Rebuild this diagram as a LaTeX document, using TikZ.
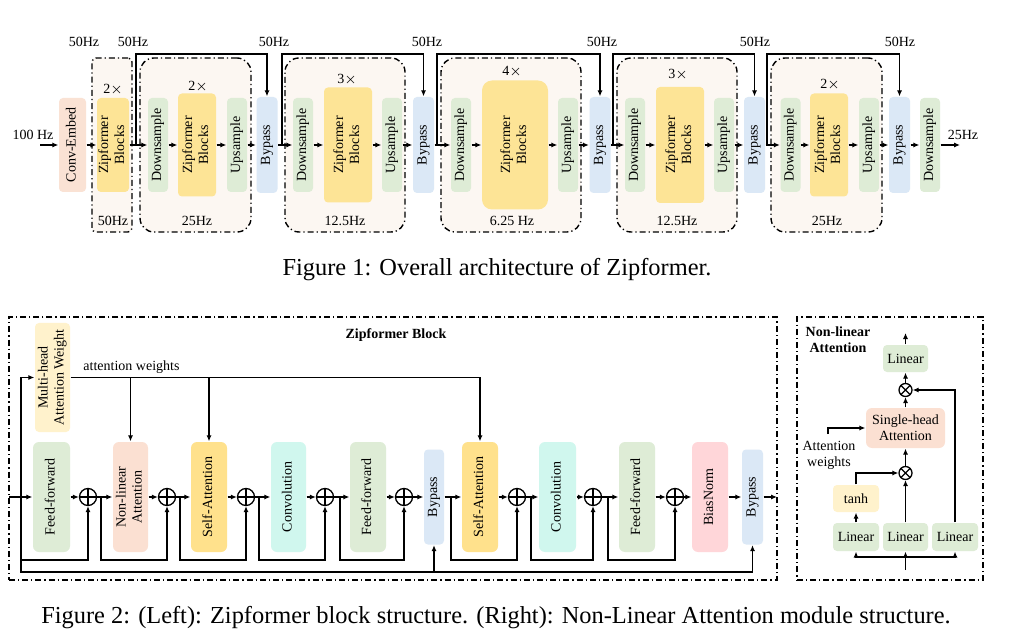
\documentclass[tikz,border=0pt]{standalone}
\usepackage{fontspec}
\setmainfont{Liberation Serif}
\usetikzlibrary{arrows.meta, positioning}
\definecolor{embcol}{RGB}{250,226,212}
\definecolor{zipcol}{RGB}{253,228,150}
\definecolor{greencol}{RGB}{222,236,214}
\definecolor{bypasscol}{RGB}{219,232,246}
\definecolor{stagecol}{RGB}{252,247,242}
\definecolor{mhawcol}{RGB}{255,242,204}
\definecolor{nlacol}{RGB}{251,224,210}
\definecolor{sacol}{RGB}{255,225,140}
\definecolor{convcol}{RGB}{208,247,238}
\definecolor{biascol}{RGB}{255,214,217}
\newcommand{\vlab}[1]{\rotatebox{90}{\begin{tabular}{@{}c@{}}#1\end{tabular}}}
\tikzset{
    lab/.style={font=\fontsize{7}{8}\selectfont, inner sep=0pt},
    mod/.style 2 args={lab, rounded corners=2pt, minimum width=#1, minimum height=#2, align=center},
    stageline/.style={dash pattern=on 3pt off 1.5pt on 0.6pt off 1.5pt, line width=0.7pt},
    arr/.style={-{Latex[length=3pt,width=2.6pt]}},
    plusnode/.style={circle, draw, line width=0.65pt, minimum size=8.5pt, inner sep=0pt,
        path picture={\draw[line width=0.65pt] (path picture bounding box.north) -- (path picture bounding box.south)
            (path picture bounding box.west) -- (path picture bounding box.east);}},
    timesnode/.style={circle, draw, line width=0.65pt, minimum size=6.5pt, inner sep=0pt,
        path picture={\draw[line width=0.65pt] ([shift={(45:3.3pt)}]path picture bounding box.center) -- ([shift={(225:3.3pt)}]path picture bounding box.center)
            ([shift={(135:3.3pt)}]path picture bounding box.center) -- ([shift={(315:3.3pt)}]path picture bounding box.center);}},
    captext/.style={font=\fontsize{12.2}{14}\selectfont, inner sep=0pt}
}
\begin{document}
\begin{tikzpicture}[x=0.5pt, y=-0.5pt, line width=0.65pt]
    \fill[white] (0,0) rectangle (1021,641);
    \useasboundingbox (0,0) rectangle (1021,641);

    % Figure 1: stages
    \node[stageline, draw, fill=stagecol, rounded corners=2pt, minimum width=20pt, minimum height=87pt] (st1) at (112,145) {};
    \node[stageline, draw, fill=stagecol, rounded corners=7pt, minimum width=55.5pt, minimum height=87pt] (st2) at (195.5,145) {};
    \node[stageline, draw, fill=stagecol, rounded corners=7pt, minimum width=60pt, minimum height=87pt] (st3) at (345,145) {};
    \node[stageline, draw, fill=stagecol, rounded corners=7pt, minimum width=70pt, minimum height=87pt] (st4) at (511,145) {};
    \node[stageline, draw, fill=stagecol, rounded corners=7pt, minimum width=60pt, minimum height=87pt] (st5) at (677,145) {};
    \node[stageline, draw, fill=stagecol, rounded corners=7pt, minimum width=55.5pt, minimum height=87pt] (st6) at (826.5,145) {};

    % Figure 1: blocks
    \node[mod={13.5pt}{47pt}, fill=embcol] (embed) at (72.5,145) {\vlab{Conv-Embed}};
    \node[mod={15pt}{47pt}, fill=zipcol] (zip1) at (113,145) {\vlab{Zipformer\\Blocks}};
    \node[mod={10pt}{47pt}, fill=greencol] (down2) at (158,145) {\vlab{Downsample}};
    \node[mod={19pt}{51.5pt}, fill=zipcol] (zip2) at (197,145) {\vlab{Zipformer\\Blocks}};
    \node[mod={10pt}{47pt}, fill=greencol] (up2) at (237,145) {\vlab{Upsample}};
    \node[mod={10.5pt}{48pt}, fill=bypasscol] (bypass1) at (267,145) {\vlab{Bypass}};
    \node[mod={10pt}{47pt}, fill=greencol] (down3) at (303,145) {\vlab{Downsample}};
    \node[mod={24pt}{57.5pt}, fill=zipcol] (zip3) at (348,145) {\vlab{Zipformer\\Blocks}};
    \node[mod={10pt}{47pt}, fill=greencol] (up3) at (392,145) {\vlab{Upsample}};
    \node[mod={10.5pt}{48pt}, fill=bypasscol] (bypass2) at (423.5,145) {\vlab{Bypass}};
    \node[mod={10pt}{47pt}, fill=greencol] (down4) at (461,145) {\vlab{Downsample}};
    \node[mod={33pt}{64.5pt}, fill=zipcol, rounded corners=5pt] (zip4) at (515,145) {\vlab{Zipformer\\Blocks}};
    \node[mod={10pt}{47pt}, fill=greencol] (up4) at (568,145) {\vlab{Upsample}};
    \node[mod={10.5pt}{48pt}, fill=bypasscol] (bypass3) at (600,145) {\vlab{Bypass}};
    \node[mod={10pt}{47pt}, fill=greencol] (down5) at (635,145) {\vlab{Downsample}};
    \node[mod={24pt}{58pt}, fill=zipcol] (zip5) at (680,145) {\vlab{Zipformer\\Blocks}};
    \node[mod={10pt}{47pt}, fill=greencol] (up5) at (724,145) {\vlab{Upsample}};
    \node[mod={10.5pt}{48pt}, fill=bypasscol] (bypass4) at (754.5,145) {\vlab{Bypass}};
    \node[mod={10pt}{47pt}, fill=greencol] (down6) at (790.5,145) {\vlab{Downsample}};
    \node[mod={19pt}{51.5pt}, fill=zipcol] (zip6) at (829,145) {\vlab{Zipformer\\Blocks}};
    \node[mod={10pt}{47pt}, fill=greencol] (up6) at (869,145) {\vlab{Upsample}};
    \node[mod={10.5pt}{48pt}, fill=bypasscol] (bypass5) at (899.5,145) {\vlab{Bypass}};
    \node[mod={10pt}{47pt}, fill=greencol] (down7) at (930,145) {\vlab{Downsample}};

    % Figure 1: labels
    \node[lab] (hzin) at (33,135) {100 Hz};
    \node[lab] (hzout) at (963,135) {25Hz};
    \node[lab] (rep1) at (113,90) {2$\times$};
    \node[lab] (rep2) at (198,87) {2$\times$};
    \node[lab] (rep3) at (347,80) {3$\times$};
    \node[lab] (rep4) at (512,72) {4$\times$};
    \node[lab] (rep5) at (678,75) {3$\times$};
    \node[lab] (rep6) at (830,85) {2$\times$};
    \node[lab] (rate1) at (113,221) {50Hz};
    \node[lab] (rate2) at (197,221) {25Hz};
    \node[lab] (rate3) at (345,221) {12.5Hz};
    \node[lab] (rate4) at (512,221) {6.25 Hz};
    \node[lab] (rate5) at (677,221) {12.5Hz};
    \node[lab] (rate6) at (827,221) {25Hz};
    \node[lab] (top0) at (84,42) {50Hz};
    \node[lab] (top1) at (133,42) {50Hz};
    \node[lab] (top2) at (274,42) {50Hz};
    \node[lab] (top3) at (427,42) {50Hz};
    \node[lab] (top4) at (602,42) {50Hz};
    \node[lab] (top5) at (755,42) {50Hz};
    \node[lab] (top6) at (900,42) {50Hz};

    % Figure 1: main path
    \coordinate (in1) at (40,145);
    \coordinate (out1) at (960,145);
    \foreach \a/\b in {in1/embed, embed/zip1, zip1/down2, down2/zip2, zip2/up2, up2/bypass1,
        bypass1/down3, down3/zip3, zip3/up3, up3/bypass2, bypass2/down4, down4/zip4, zip4/up4,
        up4/bypass3, bypass3/down5, down5/zip5, zip5/up5, up5/bypass4, bypass4/down6,
        down6/zip6, zip6/up6, up6/bypass5, bypass5/down7, down7/out1}
        \draw[arr] (\a) -- (\b);

    % Figure 1: skip connections
    \coordinate (sk1) at (136,145);
    \coordinate (sk2) at (282,145);
    \coordinate (sk3) at (437,145);
    \coordinate (sk4) at (613,145);
    \coordinate (sk5) at (767,145);
    \foreach \s/\b in {sk1/bypass1, sk2/bypass2, sk3/bypass3, sk4/bypass4, sk5/bypass5}
        \draw[arr] (\s) -- ++(0,-91) -| (\b.north);

    \node[captext] (cap1) at (497,270) {Figure 1: Overall architecture of Zipformer.};

    % Figure 2: frames
    \node[stageline, draw, minimum width=384pt, minimum height=131.5pt] (zblock) at (393,448.5) {};
    \node[stageline, draw, minimum width=93pt, minimum height=131.5pt] (nlblock) at (890,448.5) {};
    \node[lab, font=\fontsize{7}{8}\selectfont\bfseries] (zbtitle) at (396,335) {Zipformer Block};
    \node[lab, font=\fontsize{7}{8}\selectfont\bfseries, align=center] (nltitle) at (838,340) {Non-linear\\Attention};

    % Figure 2: Zipformer block
    \node[mod={17.5pt}{54.5pt}, fill=mhawcol] (mhaw) at (52.5,377.5) {\vlab{Multi-head\\Attention Weight}};
    \node[mod={18.5pt}{55pt}, fill=greencol, rounded corners=3pt] (ff1) at (51.5,497) {\vlab{Feed-forward}};
    \node[mod={17.5pt}{55pt}, fill=nlacol, rounded corners=3pt] (nla) at (130.5,497) {\vlab{Non-linear\\Attention}};
    \node[mod={18pt}{55pt}, fill=sacol, rounded corners=3pt] (sa1) at (209,497) {\vlab{Self-Attention}};
    \node[mod={17.5pt}{55pt}, fill=convcol, rounded corners=3pt] (cv1) at (288.5,497) {\vlab{Convolution}};
    \node[mod={18pt}{55pt}, fill=greencol, rounded corners=3pt] (ff2) at (368,497) {\vlab{Feed-forward}};
    \node[mod={10pt}{47.5pt}, fill=bypasscol] (bp1) at (434,497) {\vlab{Bypass}};
    \node[mod={18pt}{55pt}, fill=sacol, rounded corners=3pt] (sa2) at (480,497) {\vlab{Self-Attention}};
    \node[mod={18.5pt}{55pt}, fill=convcol, rounded corners=3pt] (cv2) at (557.5,497) {\vlab{Convolution}};
    \node[mod={18pt}{55pt}, fill=greencol, rounded corners=3pt] (ff3) at (637,497) {\vlab{Feed-forward}};
    \node[mod={18pt}{55pt}, fill=biascol, rounded corners=3pt] (bn) at (710,497) {\vlab{BiasNorm}};
    \node[mod={10.5pt}{47.5pt}, fill=bypasscol] (bp2) at (752.5,497) {\vlab{Bypass}};
    \node[plusnode] (p1) at (88,497) {};
    \node[plusnode] (p2) at (167,497) {};
    \node[plusnode] (p3) at (246,497) {};
    \node[plusnode] (p4) at (325,497) {};
    \node[plusnode] (p5) at (404,497) {};
    \node[plusnode] (p6) at (517,497) {};
    \node[plusnode] (p7) at (593,497) {};
    \node[plusnode] (p8) at (675,497) {};

    % main path
    \coordinate (in2) at (9,497);
    \coordinate (out2) at (777,497);
    \foreach \a/\b in {in2/ff1, ff1/p1, p1/nla, nla/p2, p2/sa1, sa1/p3, p3/cv1, cv1/p4, p4/ff2,
        ff2/p5, p5/bp1, bp1/sa2, sa2/p6, p6/cv2, cv2/p7, p7/ff3, ff3/p8, p8/bn, bn/bp2, bp2/out2}
        \draw[arr] (\a) -- (\b);

    % residual connections
    \coordinate (r0) at (21,497);
    \draw[arr] (r0) |- (mhaw.west);
    \draw[arr] (r0) -- (21,560) -| (p1.south);
    \draw[arr] (r0) -- (21,572) -| (bp2.south);
    \draw[arr] (bp1.south |- 0,572) -- (bp1.south);
    \foreach \x/\p in {101/p2, 180/p3, 259/p4, 340/p5, 451/p6, 531/p7, 608/p8} {
        \coordinate (r\p) at (\x,497);
        \draw[arr] (r\p) -- (\x,560) -| (\p.south);
    }

    % attention weights
    \node[lab] (awtext) at (131.5,367) {attention weights};
    \draw[arr] (mhaw.east) -| (sa2.north);
    \draw[arr] (nla.north |- mhaw.east) -- (nla.north);
    \draw[arr] (sa1.north |- mhaw.east) -- (sa1.north);

    % Figure 2: non-linear attention
    \node[mod={22.5pt}{13.5pt}, fill=greencol] (lin4) at (905.5,358.5) {Linear};
    \node[timesnode] (m2) at (905.5,390) {};
    \node[mod={39.5pt}{20pt}, fill=nlacol, rounded corners=3pt] (sha) at (905.5,428) {Single-head\\Attention};
    \node[timesnode] (m1) at (905.5,473) {};
    \node[mod={23pt}{13.5pt}, fill=mhawcol] (tanh) at (856,498.5) {tanh};
    \node[mod={23pt}{14pt}, fill=greencol] (lin1) at (856,537) {Linear};
    \node[mod={22.5pt}{14pt}, fill=greencol] (lin2) at (905.5,537) {Linear};
    \node[mod={23pt}{14pt}, fill=greencol] (lin3) at (955,537) {Linear};
    \node[lab, align=center] (awlab) at (829,455) {Attention\\weights};

    \coordinate (nlin) at (905.5,570);
    \coordinate (nlsplit) at (905.5,557);
    \coordinate (nlout) at (905.5,333);
    \coordinate (awtip) at (828,434);
    \draw (nlin) -- (nlsplit);
    \draw[arr] (nlsplit) -- (lin2);
    \draw[arr] (nlsplit) -| (lin1.south);
    \draw[arr] (nlsplit) -| (lin3.south);
    \draw[arr] (lin1) -- (tanh);
    \draw[arr] (tanh.north) |- (m1.west);
    \draw[arr] (lin2) -- (m1);
    \draw[arr] (m1) -- (sha);
    \draw[arr] (awtip) |- (sha.west);
    \draw[arr] (sha) -- (m2);
    \draw[arr] (lin3.north) |- (m2.east);
    \draw[arr] (m2) -- (lin4);
    \draw[arr] (lin4) -- (nlout);

    \node[captext] (cap2) at (496,618) {Figure 2: (Left): Zipformer block structure. (Right): Non-Linear Attention module structure.};
\end{tikzpicture}
\end{document}
